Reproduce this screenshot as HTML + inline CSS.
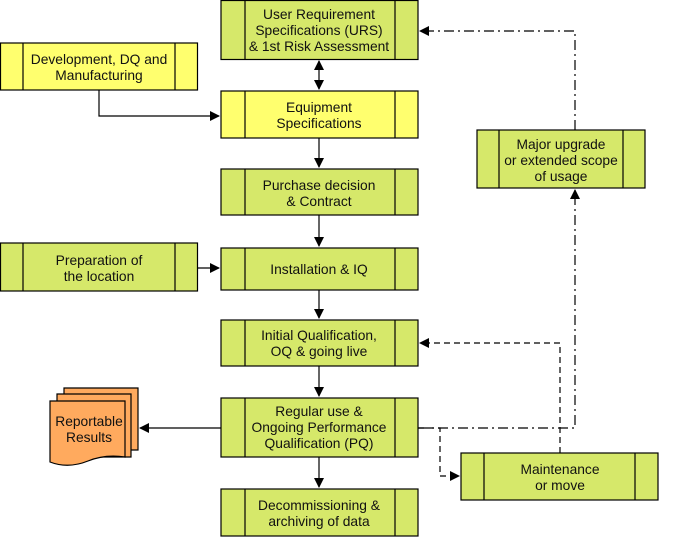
<!DOCTYPE html>
<html><head><style>
body{margin:0;background:#fff}
svg text{font-family:"Liberation Sans",sans-serif;font-size:13.8px;fill:#111;text-anchor:middle}
</style></head><body>
<svg width="675" height="537" viewBox="0 0 675 537" xmlns="http://www.w3.org/2000/svg">
<defs>
<marker id="a" markerWidth="10" markerHeight="10" refX="9" refY="5" orient="auto" markerUnits="userSpaceOnUse"><path d="M0,0 L10,5 L0,10 z" fill="#000"/></marker>
<marker id="b" markerWidth="10" markerHeight="10" refX="1" refY="5" orient="auto" markerUnits="userSpaceOnUse"><path d="M10,0 L0,5 L10,10 z" fill="#000"/></marker>
</defs>
<g stroke="#000" stroke-width="1.2">
<g fill="#d6e86a">
<rect x="221" y="0.5" width="197" height="59"/><line x1="245" y1="0" x2="245" y2="59"/><line x1="395" y1="0" x2="395" y2="59"/>
<rect x="221" y="169" width="197" height="46"/><line x1="245" y1="169" x2="245" y2="215"/><line x1="395" y1="169" x2="395" y2="215"/>
<rect x="221" y="248" width="197" height="42"/><line x1="245" y1="248" x2="245" y2="290"/><line x1="395" y1="248" x2="395" y2="290"/>
<rect x="221" y="320" width="197" height="46"/><line x1="245" y1="320" x2="245" y2="366"/><line x1="395" y1="320" x2="395" y2="366"/>
<rect x="221" y="398" width="197" height="59"/><line x1="245" y1="398" x2="245" y2="457"/><line x1="395" y1="398" x2="395" y2="457"/>
<rect x="221" y="489" width="197" height="47"/><line x1="245" y1="489" x2="245" y2="536"/><line x1="395" y1="489" x2="395" y2="536"/>
<rect x="0.5" y="243" width="197" height="48"/><line x1="23" y1="243" x2="23" y2="291"/><line x1="175" y1="243" x2="175" y2="291"/>
<rect x="477" y="130" width="168" height="58"/><line x1="499" y1="130" x2="499" y2="188"/><line x1="623" y1="130" x2="623" y2="188"/>
<rect x="461" y="453" width="197" height="47"/><line x1="484" y1="453" x2="484" y2="500"/><line x1="635" y1="453" x2="635" y2="500"/>
</g>
<g fill="#ffff6e">
<rect x="221" y="91" width="197" height="47"/><line x1="245" y1="91" x2="245" y2="138"/><line x1="395" y1="91" x2="395" y2="138"/>
<rect x="0.5" y="43" width="197" height="47"/><line x1="23" y1="43" x2="23" y2="90"/><line x1="175" y1="43" x2="175" y2="90"/>
</g>
<g fill="#ffaa5e">
<path d="M64,388 H138 V450 H64 z"/>
<path d="M57,394 H131 V457 H57 z"/>
<path d="M50,401 H125 V457 Q105,454 88,461 Q68,469 50,462 z"/>
</g>
<g fill="none">
<line x1="319" y1="61" x2="319" y2="89" marker-start="url(#b)" marker-end="url(#a)"/>
<polyline points="99,90 99,116 219,116" marker-end="url(#a)"/>
<line x1="319" y1="138" x2="319" y2="167" marker-end="url(#a)"/>
<line x1="319" y1="215" x2="319" y2="246" marker-end="url(#a)"/>
<line x1="197" y1="268" x2="219" y2="268" marker-end="url(#a)"/>
<line x1="319" y1="290" x2="319" y2="318" marker-end="url(#a)"/>
<line x1="319" y1="366" x2="319" y2="396" marker-end="url(#a)"/>
<line x1="319" y1="457" x2="319" y2="487" marker-end="url(#a)"/>
<line x1="221" y1="428" x2="140" y2="428" marker-end="url(#a)"/>
<polyline stroke-dasharray="10,4,2,4" points="418,428 575,428 575,190" marker-end="url(#a)"/>
<polyline stroke-dasharray="10,4,2,4" points="575,130 575,31 420,31" marker-end="url(#a)"/>
<polyline stroke-dasharray="6,4" points="560,453 560,343 420,343" marker-end="url(#a)"/>
<polyline stroke-dasharray="6,4" points="418,428 440,428 440,476 459,476" marker-end="url(#a)"/>
</g>
</g>
<text x="319" y="19">User Requirement</text>
<text x="319" y="35">Specifications (URS)</text>
<text x="319" y="51">&amp; 1st Risk Assessment</text>
<text x="99" y="64">Development, DQ and</text>
<text x="99" y="80">Manufacturing</text>
<text x="319" y="112">Equipment</text>
<text x="319" y="128">Specifications</text>
<text x="319" y="190">Purchase decision</text>
<text x="319" y="206">&amp; Contract</text>
<text x="99" y="265">Preparation of</text>
<text x="99" y="281">the location</text>
<text x="319" y="274">Installation &amp; IQ</text>
<text x="319" y="340">Initial Qualification,</text>
<text x="319" y="356">OQ &amp; going live</text>
<text x="319" y="416">Regular use &amp;</text>
<text x="319" y="432">Ongoing Performance</text>
<text x="319" y="448">Qualification (PQ)</text>
<text x="319" y="510">Decommissioning &amp;</text>
<text x="319" y="526">archiving of data</text>
<text x="561" y="149">Major upgrade</text>
<text x="561" y="165">or extended scope</text>
<text x="561" y="181">of usage</text>
<text x="560" y="474">Maintenance</text>
<text x="560" y="490">or move</text>
<text x="89" y="426">Reportable</text>
<text x="89" y="442">Results</text>
</svg>
</body></html>
